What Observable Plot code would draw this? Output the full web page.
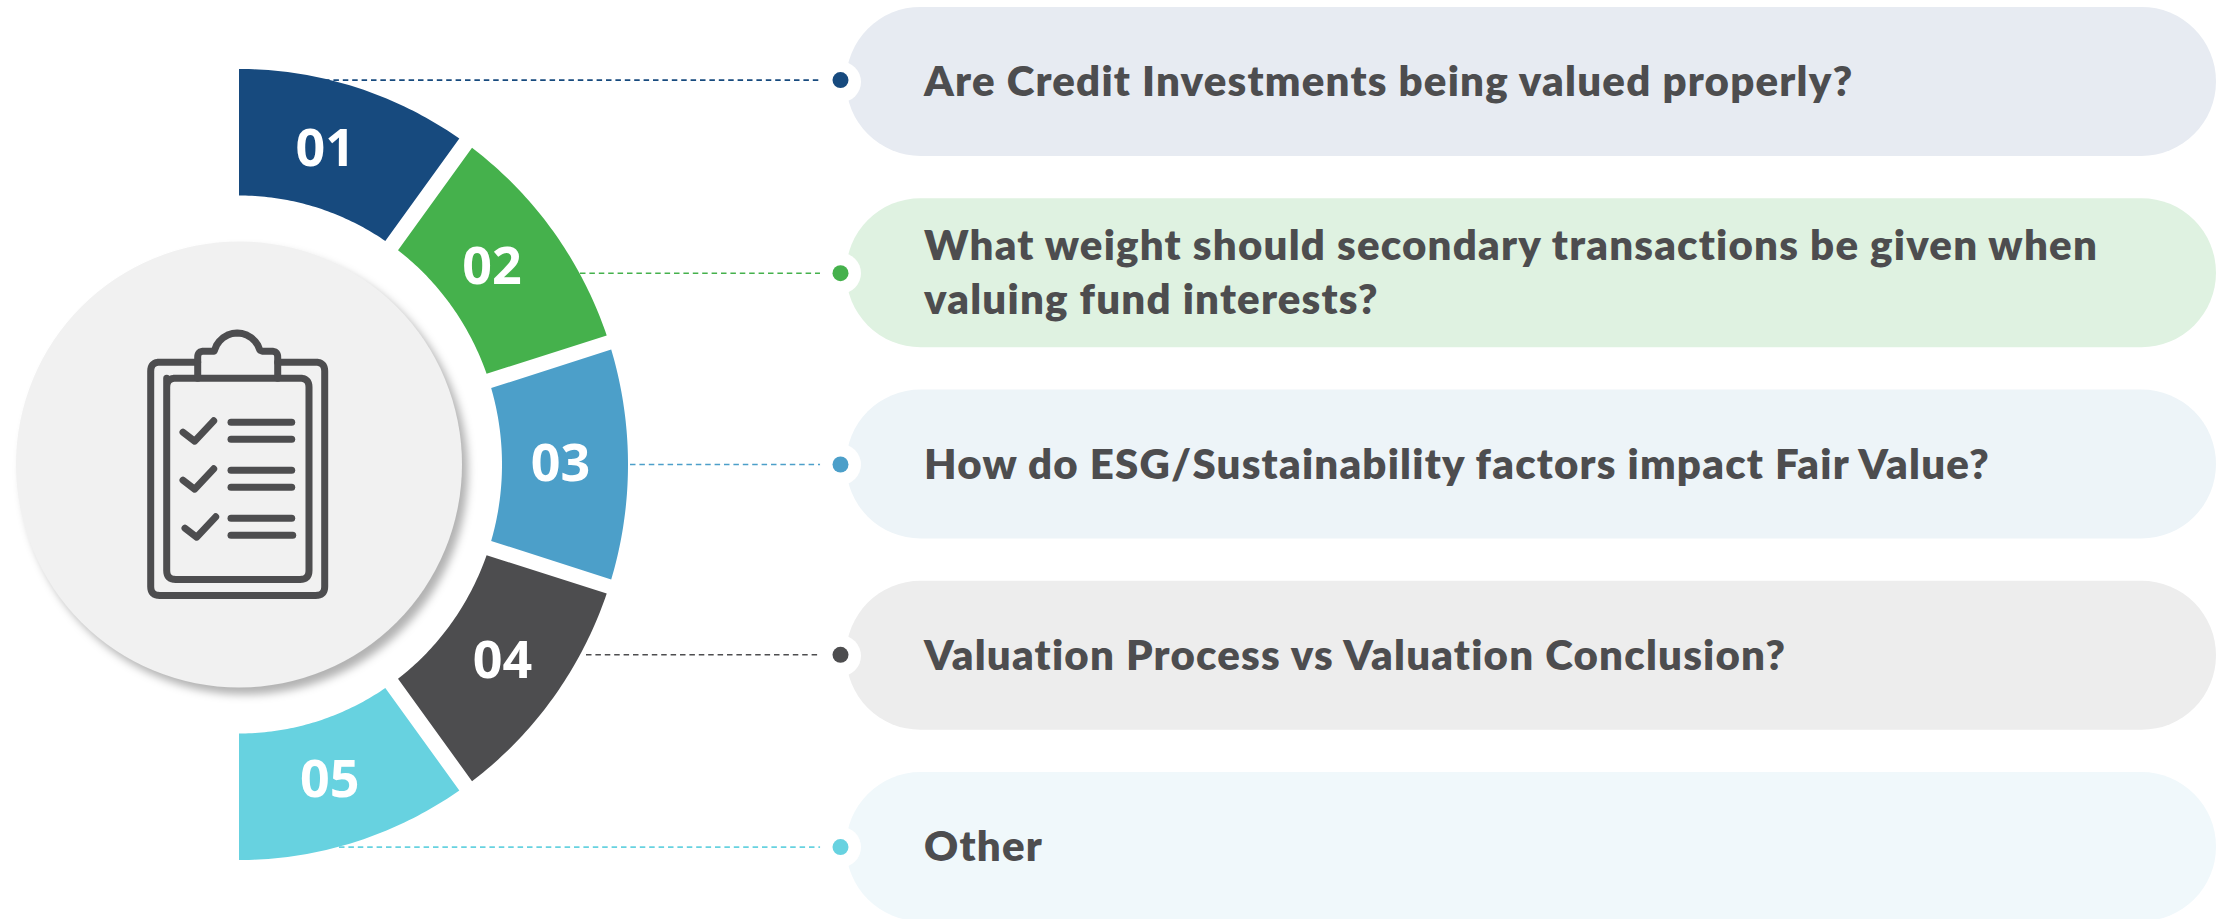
<!DOCTYPE html>
<html>
<head>
<meta charset="utf-8">
<script src="https://cdn.jsdelivr.net/npm/d3@7"></script>
<script src="https://cdn.jsdelivr.net/npm/@observablehq/plot@0.6"></script>
<style>
  html, body { margin: 0; padding: 0; background: #fff; }
  svg { display: block; }
  .hub { filter: drop-shadow(6px 7px 4px rgba(0,0,0,0.30)); }
</style>
</head>
<body>
<div id="chart"></div>
<script>
// ---- categories and texts ----
const segmentIds = ["01", "02", "03", "04", "05"];
const questions = [
  "Are Credit Investments being valued properly?",
  "What weight should secondary transactions be given when\nvaluing fund interests?",
  "How do ESG/Sustainability factors impact Fair Value?",
  "Valuation Process vs Valuation Conclusion?",
  "Other"
];
// ---- ring sweep, degrees clockwise from the top ----
const outerStart = [0, 36.8, 73.1, 109.04, 145.5];
const outerEnd = [34.5, 70.96, 106.9, 143.2, 180];
const innerStart = [0, 37.2, 73.5, 109.7, 146.2];
const innerEnd = [33.8, 70.3, 106.5, 142.8, 180];
const labelAngle = [15.3, 52, 90, 126.8, 164];
const labelRadius = [326.5, 321, 321.5, 329, 329];
const leaderStart = [324, 580, 630, 586, 339];
const leaderShift = [-1.8, 0, 0, -1, 0];
// ---- colours ----
const segmentColors = ["#174A7E", "#45B14C", "#4C9FC9", "#4D4D4F", "#67D2E0"];
const pillColors = ["#E7EBF2", "#DFF2E1", "#EDF4F8", "#EDEDED", "#F0F8FB"];
const ink = "#4D4D4F";

// ---- layout constants ----
const W = 2231, H = 919;
const cx = 238.5, cy = 464;
const rowStep = 191.3, pillHalf = 74.5;
const pillLeft = 846, pillRight = 2216, textLeft = 923.5, dotX = 840;
const rowY = (i) => cy + (i - 2) * rowStep;

function arc(start, end, rx, ry) {
  const n = 48;
  return d3.range(n + 1).map((k) => {
    const t = (start + (end - start) * k / n) * Math.PI / 180;
    return [cx + rx * Math.sin(t), cy - ry * Math.cos(t)];
  });
}
const ring = segmentIds.flatMap((id, i) =>
  [...arc(outerStart[i], outerEnd[i], 389, 395.5),
   ...arc(innerEnd[i], innerStart[i], 263, 269)].map(([x, y]) => ({id, x, y}))
);
const rows = segmentIds.map((id, i) => ({
  id, i, question: questions[i], y: rowY(i), yLeader: rowY(i) + leaderShift[i], x0: leaderStart[i],
  pill: pillColors[i], color: segmentColors[i]
}));
const labels = segmentIds.map((id, i) => {
  const t = labelAngle[i] * Math.PI / 180;
  return {id, x: cx + labelRadius[i] * Math.sin(t), y: cy - labelRadius[i] * Math.cos(t)};
});

// ---- clipboard icon strokes ----
function rounded(pts, r) {
  const out = [];
  pts.forEach((p, i) => {
    if (i === 0 || i === pts.length - 1) { out.push(p); return; }
    const a = pts[i - 1], b = pts[i + 1];
    const la = Math.hypot(a[0] - p[0], a[1] - p[1]), lb = Math.hypot(b[0] - p[0], b[1] - p[1]);
    const p0 = [p[0] + (a[0] - p[0]) * r / la, p[1] + (a[1] - p[1]) * r / la];
    const p1 = [p[0] + (b[0] - p[0]) * r / lb, p[1] + (b[1] - p[1]) * r / lb];
    for (let k = 0; k <= 8; k++) {
      const t = k / 8;
      out.push([
        (1 - t) ** 2 * p0[0] + 2 * (1 - t) * t * p[0] + t * t * p1[0],
        (1 - t) ** 2 * p0[1] + 2 * (1 - t) * t * p[1] + t * t * p1[1]
      ]);
    }
  });
  return out;
}
const ix = cx - 0.8, iy = cy;  // icon is placed relative to the hub centre
const P = (dx, dy) => [ix + dx, iy + dy];
const knob = d3.range(0, 13).map((k) => {
  const t = (-74 + 148 * k / 12) * Math.PI / 180;
  return P(-1 + 23.5 * Math.sin(t), -108 - 23.5 * Math.cos(t));
});
const iconParts = [
  rounded([P(-40.5, -102.3), P(-87.5, -102.3), P(-87.5, 131), P(86.5, 131), P(86.5, -102.3), P(39.5, -102.3)], 9),
  rounded([P(-71.5, -86.3), P(-71.5, 115), P(70.8, 115), P(70.8, -86.3), P(-71.5, -86.3), P(-71.5, -70)], 9),
  [...rounded([P(-40.5, -86.3), P(-40.5, -113.3), P(-24, -113.3)], 6), ...knob, ...rounded([P(24, -113.3), P(39.5, -113.3), P(39.5, -86.3)], 6)],
  [P(-55.2, -32.3), P(-43.5, -23.3), P(-24.5, -43.7)],
  [P(-55.2, 15.7), P(-43.5, 24.7), P(-24.5, 4.3)],
  [P(-53.2, 63.7), P(-41.5, 72.7), P(-22.5, 52.3)],
  [P(-7.2, -42.3), P(53.5, -42.3)],
  [P(-7.2, -25.3), P(53.5, -25.3)],
  [P(-7.2, 5.7), P(53.5, 5.7)],
  [P(-7.2, 22.7), P(53.5, 22.7)],
  [P(-7.2, 53.7), P(53.5, 53.7)],
  [P(-7.2, 70.7), P(54.5, 70.7)]
];
const icon = iconParts.flatMap((pts, part) => pts.map(([x, y]) => ({part, x, y})));

const chart = Plot.plot({
  width: W, height: H,
  margin: 0,
  style: {background: "#fff", overflow: "hidden"},
  x: {domain: [0, W], range: [0, W], axis: null},
  y: {domain: [0, H], range: [0, H], axis: null},
  color: {domain: segmentIds, range: segmentColors},
  marks: [
    // leaders behind the ring
    Plot.ruleY(rows, {y: "yLeader", x1: "x0", x2: dotX, stroke: "id", strokeWidth: 1.6, strokeDasharray: "5.5,3.9"}),
    // question pills
    Plot.rect(rows, {
      x1: pillLeft, x2: pillRight,
      y1: (d) => d.y - pillHalf, y2: (d) => d.y + pillHalf,
      fill: (d) => d.pill, rx: pillHalf, ry: pillHalf
    }),
    // notch and connector dot
    Plot.dot(rows, {x: dotX, y: "y", r: 20.5, fill: "#fff", stroke: "none"}),
    Plot.dot(rows, {x: dotX, y: "yLeader", r: 8, fill: "id", stroke: "none"}),
    // ring segments
    Plot.line(ring, {x: "x", y: "y", z: "id", fill: "id", stroke: "none"}),
    Plot.text(labels, {
      x: "x", y: "y", text: "id", fill: "#fff",
      fontFamily: "Noto Sans", fontWeight: 700, fontSize: 52
    }),
    // central hub
    Plot.dot([{x: cx, y: cy}], {x: "x", y: "y", r: 223, fill: "#F1F1F1", stroke: "none", className: "hub"}),
    Plot.line(icon, {x: "x", y: "y", z: "part", stroke: ink, strokeWidth: 7, fill: "none"}),
    // question text
    Plot.text(rows, {
      x: textLeft, y: "y", dy: -3, text: "question", textAnchor: "start", fill: ink,
      fontFamily: "Lato", fontWeight: 800, fontSize: 42, lineHeight: 1.286,
      className: "question"
    })
  ]
});
chart.querySelectorAll(".question text").forEach((t) => { t.style.letterSpacing = "1.2px"; });
document.getElementById("chart").append(chart);
</script>
</body>
</html>
